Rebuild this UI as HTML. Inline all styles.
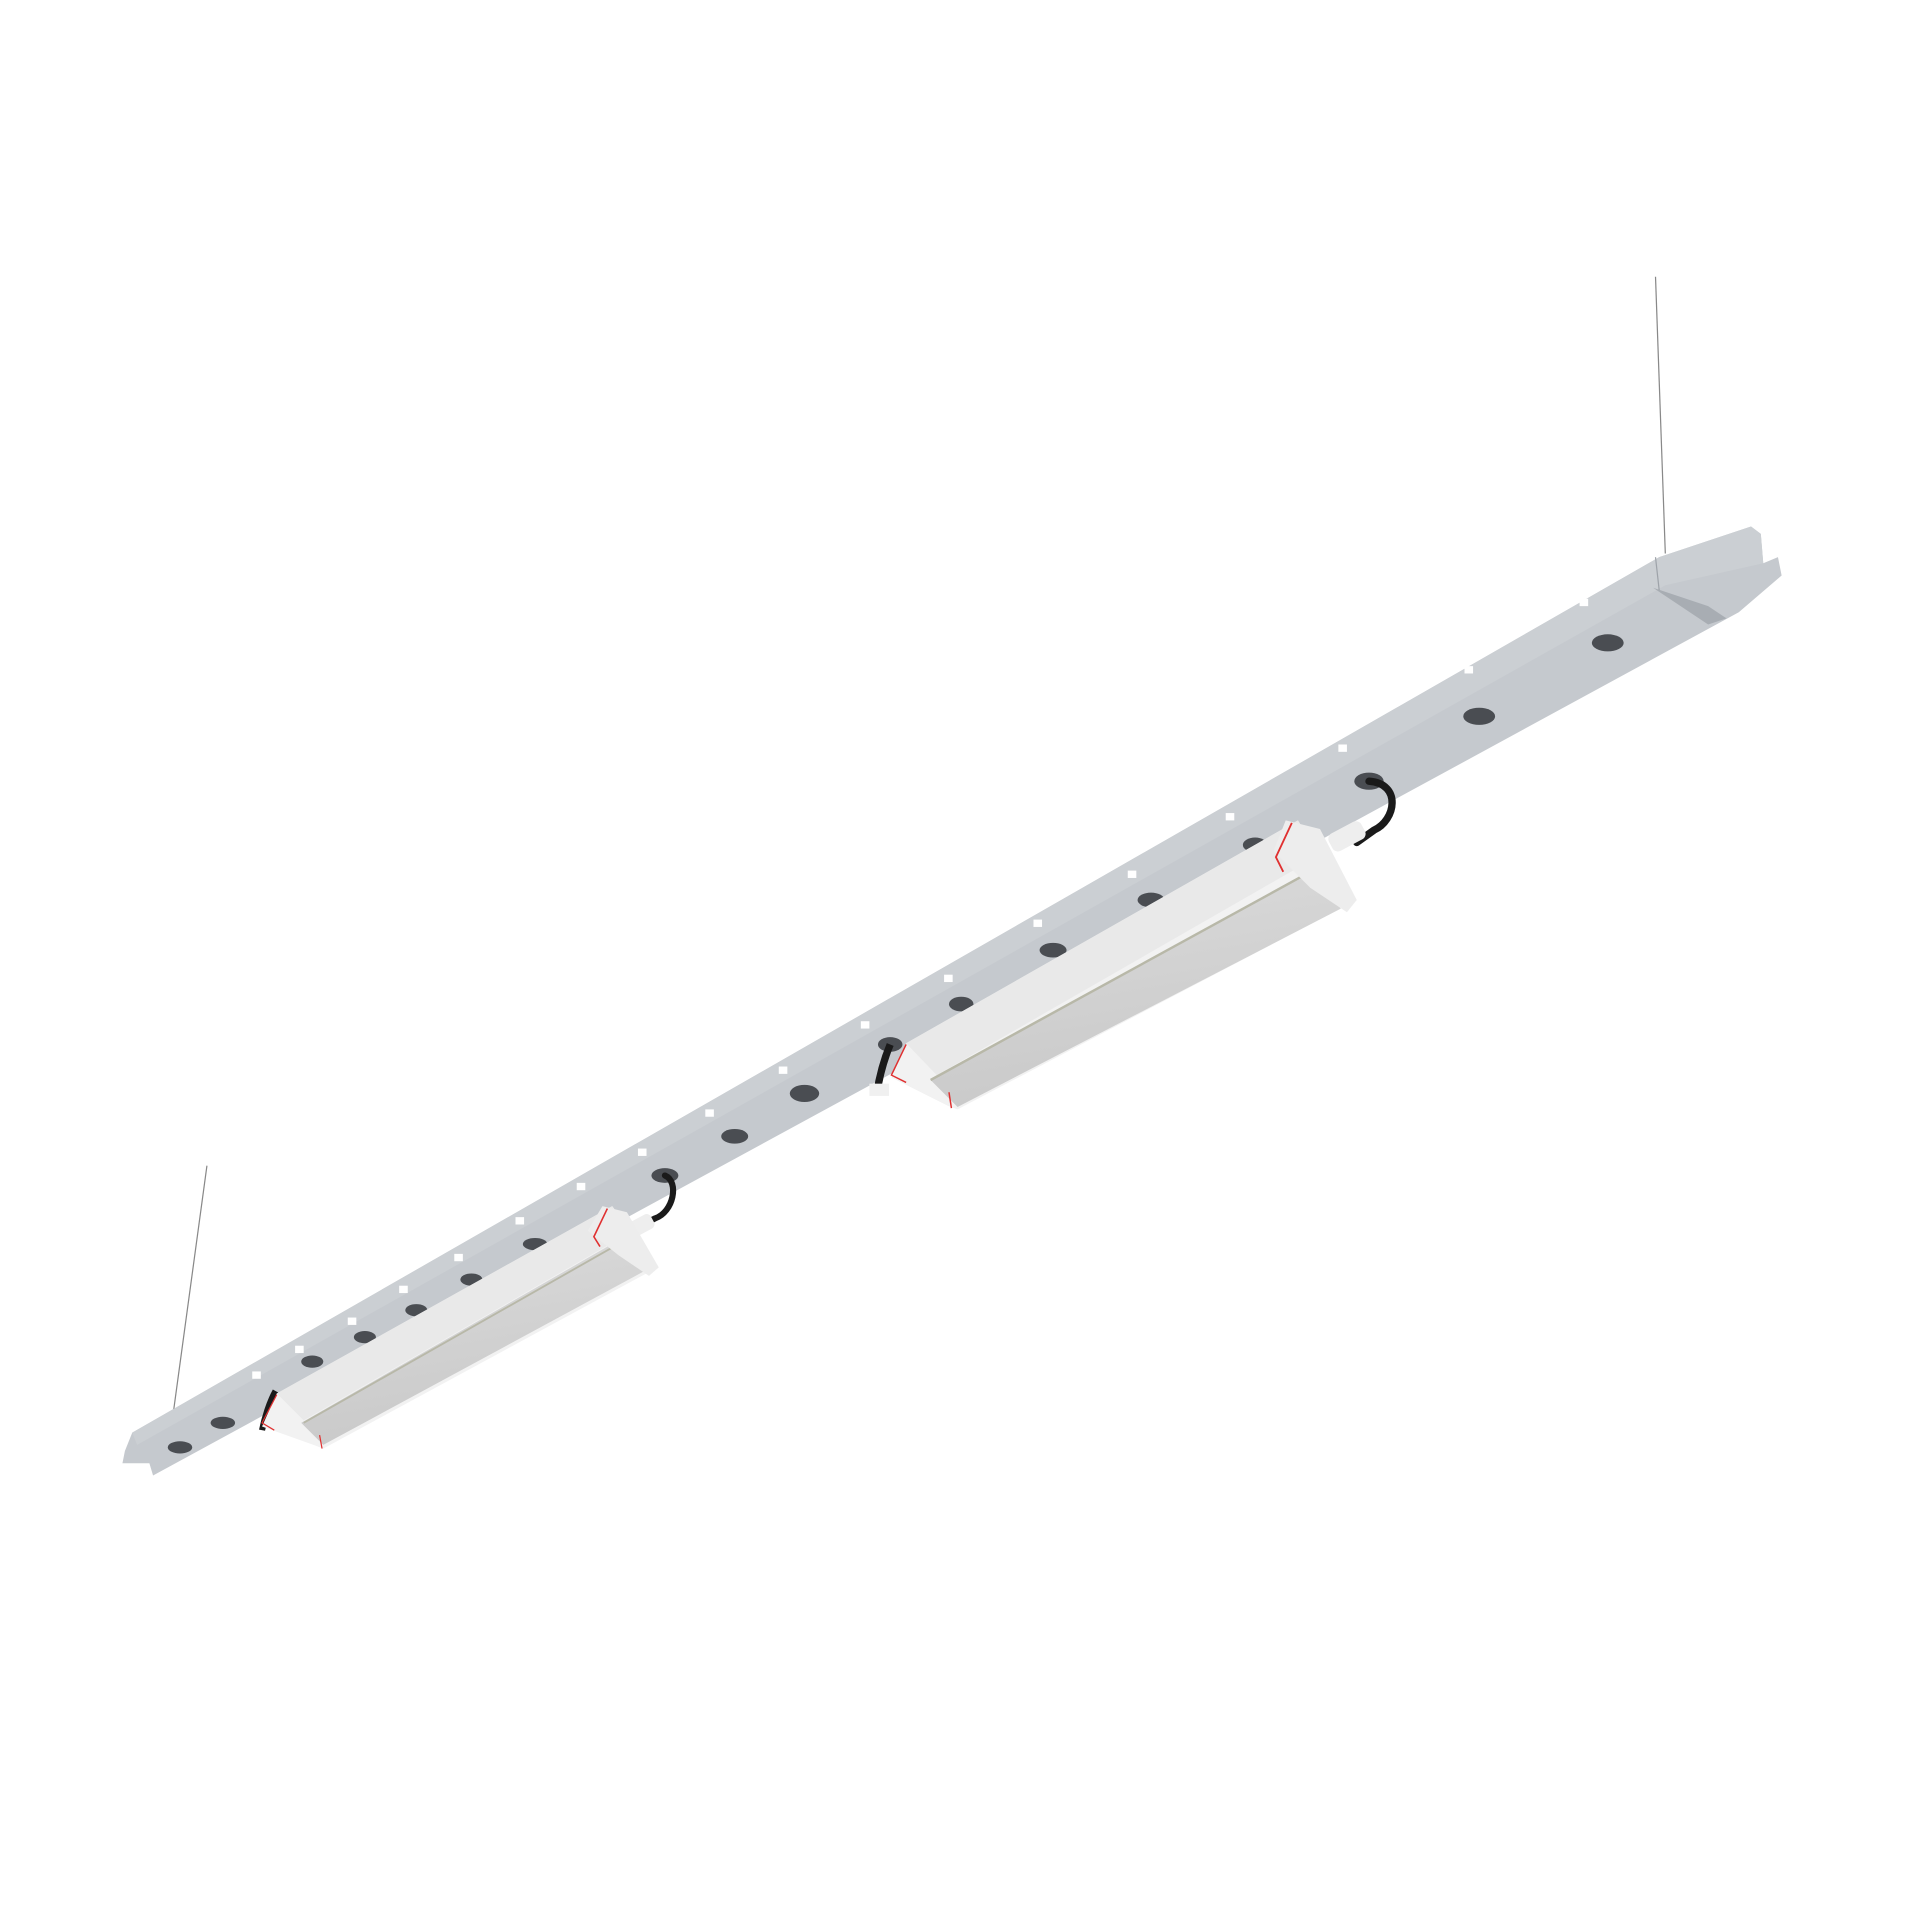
<!DOCTYPE html>
<html><head><meta charset="utf-8"><style>html,body{margin:0;padding:0;background:#fff}svg{display:block}</style></head>
<body>
<svg width="1920" height="1920" viewBox="0 0 1568 1568" xmlns="http://www.w3.org/2000/svg">
<defs>
<linearGradient id="lens" x1="0" y1="0" x2="0.3" y2="1">
<stop offset="0" stop-color="#dcdcdc"/><stop offset="1" stop-color="#c9c9c9"/></linearGradient>
</defs>
<!-- wires -->
<line x1="1352" y1="226" x2="1360" y2="452" stroke="#888" stroke-width="1"/>
<line x1="169" y1="952" x2="140" y2="1165" stroke="#888" stroke-width="1"/>
<!-- rail -->
<polygon points="1355,455 1430,430 1438,436 1440,460 1452,455 1455,470 1420,500 125,1205 122,1195 100,1195 102,1185 108,1170" fill="#c5c9ce"/>
<polygon points="1355,455 1430,430 1438,436 1440,460 1360,478 112,1180 108,1170" fill="#cbcfd3"/>
<polygon points="1350,480 1395,495 1410,505 1395,510" fill="#a8adb3"/>
<line x1="1352" y1="455" x2="1355" y2="482" stroke="#9ea3a9" stroke-width="1"/>
<!-- squares -->
<g fill="#fff">
<rect x="1290" y="489" width="7" height="6"/><rect x="1196" y="544" width="7" height="6"/><rect x="1093" y="608" width="7" height="6"/>
<rect x="1001" y="664" width="7" height="6"/><rect x="921" y="711" width="7" height="6"/><rect x="844" y="751" width="7" height="6"/>
<rect x="771" y="796" width="7" height="6"/><rect x="703" y="834" width="7" height="6"/><rect x="636" y="871" width="7" height="6"/>
<rect x="576" y="906" width="7" height="6"/><rect x="521" y="938" width="7" height="6"/><rect x="471" y="966" width="7" height="6"/>
<rect x="421" y="994" width="7" height="6"/><rect x="371" y="1024" width="7" height="6"/><rect x="326" y="1050" width="7" height="6"/>
<rect x="284" y="1076" width="7" height="6"/><rect x="241" y="1099" width="7" height="6"/><rect x="206" y="1120" width="7" height="6"/>
</g>
<!-- holes -->
<g fill="#4a4d52">
<ellipse cx="1313" cy="525" rx="13" ry="7"/><ellipse cx="1208" cy="585" rx="13" ry="7"/><ellipse cx="1118" cy="638" rx="12" ry="7"/>
<ellipse cx="1025" cy="690" rx="10" ry="6"/><ellipse cx="940" cy="735" rx="11" ry="6"/><ellipse cx="860" cy="776" rx="11" ry="6"/>
<ellipse cx="785" cy="820" rx="10" ry="6"/><ellipse cx="727" cy="853" rx="10" ry="6"/><ellipse cx="657" cy="893" rx="12" ry="7"/>
<ellipse cx="600" cy="928" rx="11" ry="6"/><ellipse cx="543" cy="960" rx="11" ry="6"/><ellipse cx="437" cy="1016" rx="10" ry="5"/>
<ellipse cx="385" cy="1045" rx="9" ry="5"/><ellipse cx="340" cy="1070" rx="9" ry="5"/><ellipse cx="298" cy="1092" rx="9" ry="5"/>
<ellipse cx="255" cy="1112" rx="9" ry="5"/><ellipse cx="182" cy="1162" rx="10" ry="5"/><ellipse cx="147" cy="1182" rx="10" ry="5"/>
</g>
<!-- fixture 1 (large) -->
<path d="M1118,638 C1145,640 1140,670 1122,678 L1108,688" stroke="#1a1a1a" stroke-width="6" fill="none" stroke-linecap="round"/>
<path d="M727,853 C722,865 718,880 716,893" stroke="#1a1a1a" stroke-width="6" fill="none"/>
<rect x="1085" y="675" width="30" height="16" rx="5" fill="#eee" transform="rotate(-28 1100 683)"/>
<polygon points="1060,670 1102,738 782,906 774,903 728,880 740,852" fill="#f2f2f2"/>
<polygon points="740,852 1060,670 1075,700 765,878" fill="#e9e9e9"/>
<polygon points="1068,712 1095,742 782,904 760,882" fill="url(#lens)"/>
<line x1="1070" y1="712" x2="760" y2="882" stroke="#b8b8a8" stroke-width="2"/>
<polygon points="1050,670 1078,677 1108,735 1100,745 1070,725 1040,695" fill="#ededed"/>
<polyline points="1055,672 1042,700 1048,712" stroke="#e03030" stroke-width="1.5" fill="none"/>
<polyline points="740,853 728,878 740,884" stroke="#e03030" stroke-width="1.2" fill="none"/>
<line x1="775" y1="892" x2="777" y2="905" stroke="#e03030" stroke-width="1.2"/>
<rect x="710" y="885" width="16" height="10" fill="#f0f0f0"/>
<!-- fixture 2 (small) -->
<path d="M543,960 C555,965 550,990 535,995 L525,1000" stroke="#1a1a1a" stroke-width="5" fill="none" stroke-linecap="round"/>
<path d="M225,1136 C220,1145 216,1158 214,1168" stroke="#1a1a1a" stroke-width="5" fill="none"/>
<rect x="510" y="995" width="24" height="13" rx="4" fill="#eee" transform="rotate(-28 522 1001)"/>
<polygon points="500,985 537,1035 264,1183 256,1180 214,1165 226,1138" fill="#f2f2f2"/>
<polygon points="226,1138 500,985 512,1008 248,1160" fill="#e9e9e9"/>
<polygon points="510,1010 530,1036 264,1180 246,1162" fill="url(#lens)"/>
<line x1="512" y1="1012" x2="248" y2="1162" stroke="#b8b8a8" stroke-width="1.5"/>
<polygon points="492,985 512,990 538,1035 530,1042 505,1025 480,1005" fill="#ededed"/>
<polyline points="496,987 485,1010 490,1018" stroke="#e03030" stroke-width="1.3" fill="none"/>
<polyline points="226,1139 214,1162 224,1168" stroke="#e03030" stroke-width="1" fill="none"/>
<line x1="261" y1="1172" x2="263" y2="1183" stroke="#e03030" stroke-width="1"/>
</svg>
</body></html>
